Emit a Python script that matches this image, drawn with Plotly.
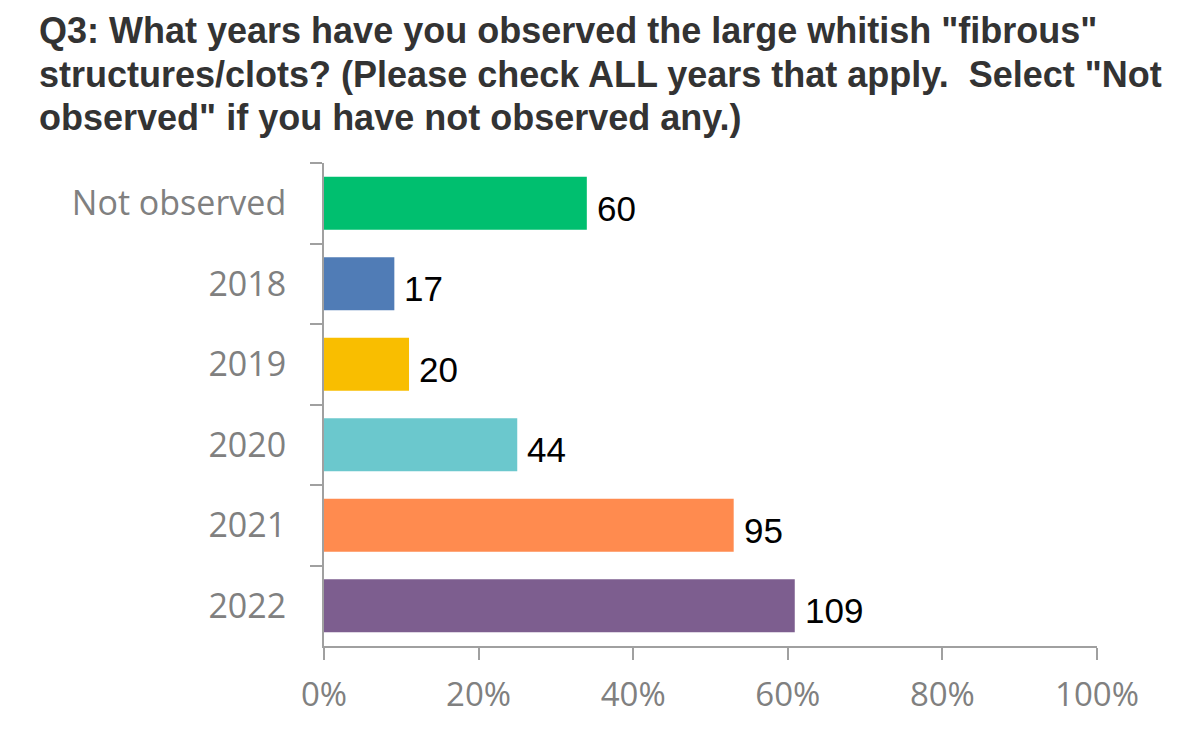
import plotly.graph_objects as go

categories = ["Not observed", "2018", "2019", "2020", "2021", "2022"]
percent_values = [34.0, 9.1, 11.0, 25.0, 53.0, 60.9]
count_labels = ["60", "17", "20", "44", "95", "109"]
bar_colors = ["#00BF6F", "#507CB6", "#F9BE00", "#6BC8CD", "#FF8B4F", "#7D5E8F"]
x_ticks = [0, 20, 40, 60, 80, 100]
x_tick_labels = ["0%", "20%", "40%", "60%", "80%", "100%"]
title_lines = [
    'Q3: What years have you observed the large whitish "fibrous"',
    'structures/clots? (Please check ALL years that apply.&nbsp; Select "Not',
    'observed" if you have not observed any.)',
]

fig = go.Figure(
    go.Bar(
        x=percent_values,
        y=categories,
        orientation="h",
        marker=dict(color=bar_colors, line=dict(width=0)),
        hoverinfo="skip",
    )
)

# category axes use serial index positions for annotations
for idx, (xv, lab) in enumerate(zip(percent_values, count_labels)):
    fig.add_annotation(
        x=xv, y=idx, text=lab,
        xref="x", yref="y",
        xanchor="left", yanchor="middle",
        xshift=8, yshift=-5,
        showarrow=False,
        font=dict(family="Liberation Sans, Arial", size=35, color="#000000"),
    )

H_PLOT = 646 - 163
for i, line in enumerate(title_lines):
    center_px = 31 + 43.5 * i
    fig.add_annotation(
        text=line,
        xref="paper", yref="paper",
        x=(37 - 324) / 773, y=(646 - center_px) / H_PLOT,
        xanchor="left", yanchor="middle",
        showarrow=False,
        font=dict(family="Liberation Sans, Arial", size=36, color="#333333", weight="bold"),
    )

fig.update_layout(
    width=1184, height=734,
    margin=dict(l=324, r=87, t=163, b=88),
    paper_bgcolor="white", plot_bgcolor="white",
    bargap=0.34,
    showlegend=False,
    xaxis=dict(
        type="linear",
        range=[0, 100],
        tickvals=x_ticks, ticktext=x_tick_labels,
        showgrid=False, zeroline=False,
        showline=True, linecolor="#a0a0a0", linewidth=2,
        ticks="outside", ticklen=12, tickwidth=2, tickcolor="#a0a0a0",
        tickfont=dict(family="Open Sans", size=33, color="#808080"),
        ticklabelstandoff=6,
        fixedrange=True,
    ),
    yaxis=dict(
        type="category",
        categoryorder="array", categoryarray=categories,
        autorange="reversed",
        showgrid=False, zeroline=False,
        showline=True, linecolor="#a0a0a0", linewidth=2,
        ticks="outside", ticklen=12, tickwidth=2, tickcolor="#a0a0a0",
        tickson="boundaries",
        tickfont=dict(family="Open Sans", size=34, color="#808080"),
        ticklabelstandoff=29,
        fixedrange=True,
    ),
)

fig.write_html("out.html")
